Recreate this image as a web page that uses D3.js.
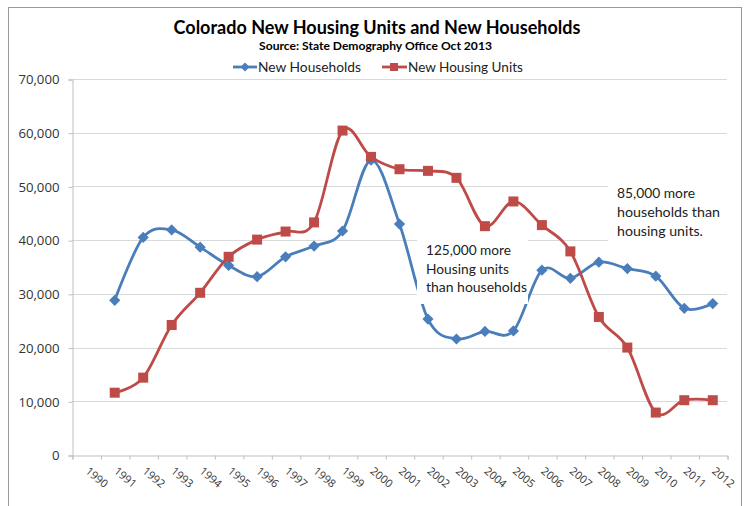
<!DOCTYPE html>
<html>
<head>
<meta charset="utf-8">
<script src="https://cdn.jsdelivr.net/npm/d3@7"></script>
<style>
  html, body { margin: 0; padding: 0; background: #fff; }
  svg { display: block; }
</style>
</head>
<body>
<svg id="chart" width="747" height="506"></svg>
<script>
// ---- data ----
const categories = ["1990","1991","1992","1993","1994","1995","1996","1997","1998","1999","2000",
  "2001","2002","2003","2004","2005","2006","2007","2008","2009","2010","2011","2012"];
const dataYears = categories.slice(1); // 1991-2012
const newHouseholds = [28800, 40500, 41900, 38700, 35300, 33200, 36900, 38900, 41700, 54900, 43000,
  25300, 21600, 23000, 23100, 34400, 32900, 35900, 34700, 33300, 27300, 28200];
const newHousingUnits = [11600, 14400, 24200, 30200, 36900, 40100, 41600, 43300, 60400, 55500, 53200,
  52900, 51600, 42600, 47200, 42800, 37900, 25700, 20000, 7900, 10200, 10200];
const yTicks = [0, 10000, 20000, 30000, 40000, 50000, 60000, 70000];
const seriesNames = ["New Households", "New Housing Units"];
const titleText = "Colorado New Housing Units and New Households";
const subtitleText = "Source: State Demography Office Oct 2013";
const note1 = ["125,000 more", "Housing units", "than households"];
const note2 = ["85,000 more", "households than", "housing units."];

// ---- setup ----
const svg = d3.select("#chart");
const FONT = "Lato, 'Open Sans', sans-serif";
const BLUE = "#4A7EBB", RED = "#BE4B48";

function fitText(sel, target) {
  const node = sel.node();
  const fs = parseFloat(sel.attr("font-size"));
  const w = node.getComputedTextLength();
  if (w > 0) sel.attr("font-size", (fs * target / w).toFixed(2));
  return sel;
}

// frame
svg.append("rect").attr("x", 8.5).attr("y", 7.5).attr("width", 733).attr("height", 520)
  .attr("fill", "#fff").attr("stroke", "#9a9a9a").attr("stroke-width", 1);

const x = d3.scaleBand().domain(categories).range([72, 727]).padding(0);
const y = d3.scaleLinear().domain([0, 70000]).range([455, 79]);
const cx = d => x(d) + x.bandwidth() / 2;

// gridlines
svg.append("g").selectAll("line").data(yTicks.filter(t => t > 0)).join("line")
  .attr("x1", 72).attr("x2", 727)
  .attr("y1", d => Math.round(y(d)) + 0.5).attr("y2", d => Math.round(y(d)) + 0.5)
  .attr("stroke", "#d9d9d9").attr("stroke-width", 1);

// y axis
const yAxis = svg.append("g").attr("transform", "translate(72.5,0.5)")
  .call(d3.axisLeft(y).tickValues(yTicks).tickSize(4).tickPadding(9).tickFormat(d3.format(",")));
yAxis.select(".domain").attr("stroke", "#bfbfbf");
yAxis.selectAll(".tick line").attr("stroke", "#bfbfbf");
yAxis.selectAll(".tick text").attr("font-family", "'Open Sans', sans-serif").attr("font-size", 13.2)
  .attr("fill", "#333");

// x axis (ticks on category boundaries)
const edgeScale = d3.scaleLinear().domain([0, categories.length]).range(x.range());
const xAxis = svg.append("g").attr("transform", "translate(0.5,455.5)")
  .call(d3.axisBottom(edgeScale).tickValues(d3.range(categories.length + 1)).tickSize(4).tickFormat(""));
xAxis.select(".domain").attr("stroke", "#bfbfbf");
xAxis.selectAll(".tick line").attr("stroke", "#bfbfbf");

svg.append("g").selectAll("text").data(categories).join("text")
  .attr("transform", d => `translate(${cx(d) + 10},478) rotate(40)`)
  .attr("text-anchor", "middle").attr("dominant-baseline", "middle")
  .attr("font-family", "'Open Sans', sans-serif").attr("font-size", 11).attr("fill", "#3a3a3a")
  .text(d => d);

// lines
const line = d3.line().x(d => cx(d.year)).y(d => y(d.value)).curve(d3.curveCardinal.tension(0));
const hh = dataYears.map((yr, i) => ({ year: yr, value: newHouseholds[i] }));
const hu = dataYears.map((yr, i) => ({ year: yr, value: newHousingUnits[i] }));

svg.append("path").datum(hh).attr("d", line).attr("fill", "none")
  .attr("stroke", BLUE).attr("stroke-width", 2.8).attr("stroke-linejoin", "round");
svg.append("path").datum(hu).attr("d", line).attr("fill", "none")
  .attr("stroke", RED).attr("stroke-width", 2.8).attr("stroke-linejoin", "round");

const diamond = r => `M0,${-r}L${r},0L0,${r}L${-r},0Z`;
svg.append("g").selectAll("path").data(hh).join("path")
  .attr("transform", d => `translate(${cx(d.year)},${y(d.value)})`)
  .attr("d", diamond(5.6)).attr("fill", BLUE);
svg.append("g").selectAll("rect").data(hu).join("rect")
  .attr("x", d => cx(d.year) - 5).attr("y", d => y(d.value) - 5)
  .attr("width", 10).attr("height", 10).attr("fill", RED);

// annotation boxes
svg.append("rect").attr("x", 417).attr("y", 235).attr("width", 111).attr("height", 69).attr("fill", "#fff");
svg.append("rect").attr("x", 608).attr("y", 178).attr("width", 122).attr("height", 68).attr("fill", "#fff");

const n1w = [85, 83, 101];
note1.forEach((t, i) => {
  const s = svg.append("text").attr("x", 426).attr("y", 255 + i * 18.6)
    .attr("font-family", FONT).attr("font-size", 14).attr("fill", "#222").text(t);
  fitText(s, n1w[i]);
});
const n2w = [78, 103, 86];
note2.forEach((t, i) => {
  const s = svg.append("text").attr("x", 617).attr("y", 198 + i * 18.8)
    .attr("font-family", FONT).attr("font-size", 14).attr("fill", "#222").text(t);
  fitText(s, n2w[i]);
});

// title
fitText(svg.append("text").attr("x", 377).attr("y", 33.5).attr("text-anchor", "middle")
  .attr("font-family", FONT).attr("font-weight", "bold").attr("font-size", 18.5).attr("fill", "#000")
  .text(titleText), 407);
fitText(svg.append("text").attr("x", 375.5).attr("y", 49.5).attr("text-anchor", "middle")
  .attr("font-family", FONT).attr("font-weight", "bold").attr("font-size", 12).attr("fill", "#000")
  .text(subtitleText), 233);

// legend
const legend = svg.append("g");
legend.append("line").attr("x1", 233).attr("x2", 257).attr("y1", 67).attr("y2", 67)
  .attr("stroke", BLUE).attr("stroke-width", 2.8);
legend.append("path").attr("transform", "translate(245,67)").attr("d", diamond(4.5)).attr("fill", BLUE);
fitText(legend.append("text").attr("x", 258).attr("y", 71.5).attr("font-family", FONT)
  .attr("font-size", 13.5).attr("fill", "#222").text(seriesNames[0]), 103);
legend.append("line").attr("x1", 382).attr("x2", 407).attr("y1", 67).attr("y2", 67)
  .attr("stroke", RED).attr("stroke-width", 2.8);
legend.append("rect").attr("x", 390).attr("y", 63).attr("width", 8).attr("height", 8).attr("fill", RED);
fitText(legend.append("text").attr("x", 408).attr("y", 71.5).attr("font-family", FONT)
  .attr("font-size", 13.5).attr("fill", "#222").text(seriesNames[1]), 115);
</script>
</body>
</html>
